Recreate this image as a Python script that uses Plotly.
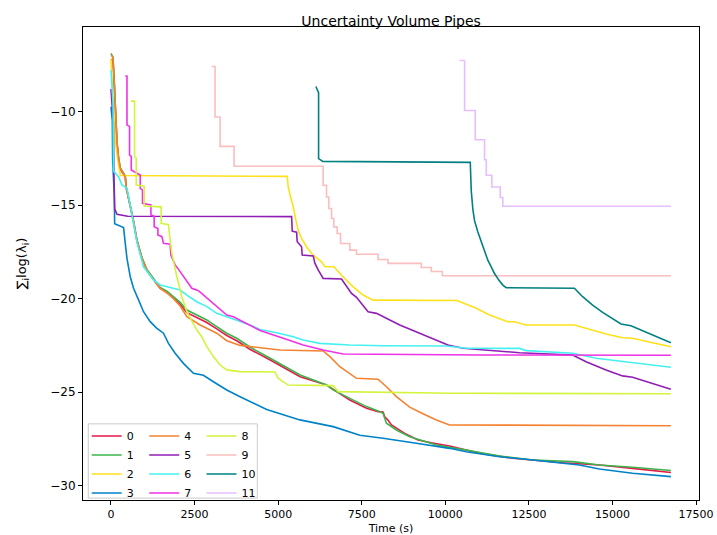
import plotly.graph_objects as go

# ---------------- data ----------------
T0 = [0, 60, 99, 128, 179, 227, 278, 427, 457, 525, 597, 675, 776, 925, 1075, 1272, 1472, 1672, 1869, 2069,
      2269, 2567, 2866, 3164, 3463, 3761, 4166, 4763, 5657, 6448, 7143, 7642, 7988, 8137, 8189, 8289, 8389,
      8785, 9183, 9580, 10128, 11024, 12018, 13511, 14606, 15600, 16746]
V0 = [-7.2, -7.3, -8.6, -10.1, -11.7, -12.55, -13.1, -13.5, -14.1, -14.65, -15.2, -15.9, -16.9, -17.85, -18.5,
      -19.0, -19.45, -19.65, -19.95, -20.3, -20.75, -21.0, -21.28, -21.62, -21.97, -22.25, -22.72, -23.28,
      -24.17, -24.62, -25.42, -25.86, -26.04, -26.06, -26.31, -26.5, -26.75, -27.2, -27.55, -27.7, -27.87,
      -28.26, -28.53, -28.77, -28.89, -29.07, -29.29]

T1 = [0, 60, 99, 128, 179, 227, 278, 427, 457, 525, 597, 675, 776, 925, 1075, 1272, 1472, 1672, 1869, 2069,
      2269, 2567, 2866, 3164, 3463, 3761, 4166, 4763, 5657, 6448, 6645, 7143, 7642, 7988, 8137, 8239, 8537,
      8934, 9331, 9731, 10128, 10627, 11621, 12615, 13809, 14606, 15600, 16746]
V1 = [-6.9, -7.1, -8.4, -9.9, -11.6, -12.45, -13.0, -13.45, -14.05, -14.6, -15.15, -15.85, -16.85, -17.8,
      -18.45, -18.95, -19.4, -19.6, -19.88, -20.2, -20.61, -20.88, -21.14, -21.5, -21.85, -22.12, -22.6,
      -23.19, -24.08, -24.62, -24.88, -25.33, -25.77, -26.0, -26.13, -26.66, -27.02, -27.38, -27.6, -27.82,
      -27.95, -28.09, -28.41, -28.62, -28.71, -28.89, -29.01, -29.18]

T2 = [0, 60, 130, 220, 280, 5272, 5301, 5373, 5451, 5531, 5600, 5701, 5851, 6048, 6298, 6397, 6666, 6895,
      7242, 7540, 7839, 10346, 10925, 11322, 11868, 12068, 12418, 13860, 14209, 14806, 15301, 15600, 16197,
      16746]
V2 = [-7.2, -9.6, -11.6, -12.8, -13.42, -13.47, -14.04, -14.57, -15.1, -15.81, -16.35, -16.79, -17.24,
      -17.68, -18.04, -18.3, -18.3, -18.75, -19.37, -19.81, -20.08, -20.1, -20.52, -20.88, -21.24, -21.24,
      -21.41, -21.41, -21.59, -21.89, -22.09, -22.12, -22.36, -22.57]

T3 = [0, 40, 50, 99, 110, 227, 376, 427, 478, 576, 675, 824, 973, 1173, 1373, 1570, 1719, 1919, 2167, 2466,
      2764, 3063, 3463, 3860, 4158, 4657, 5651, 6645, 7442, 8137, 9134, 10128, 10627, 11621, 12615, 14009,
      14606, 15600, 16746]
V3 = [-9.75, -10.5, -12.6, -14.5, -16.0, -16.07, -16.2, -17.05, -17.85, -18.83, -19.45, -20.07, -20.7,
      -21.23, -21.59, -21.85, -22.39, -22.92, -23.46, -23.99, -24.1, -24.44, -24.88, -25.24, -25.5, -25.93,
      -26.48, -26.84, -27.3, -27.46, -27.73, -28.0, -28.18, -28.45, -28.62, -28.89, -29.1, -29.33, -29.51]

T4 = [0, 60, 99, 128, 179, 227, 278, 427, 457, 525, 597, 675, 776, 925, 1075, 1272, 1472, 1672, 1869, 2069,
      2269, 2666, 3164, 3463, 3860, 4358, 5054, 6346, 6546, 6845, 7343, 7988, 8239, 8537, 8934, 9331, 9731,
      10128, 16746]
V4 = [-7.0, -7.1, -8.5, -10.0, -11.62, -12.5, -13.04, -13.49, -14.1, -14.64, -15.18, -15.89, -16.9, -17.85,
      -18.47, -19.0, -19.45, -19.7, -20.0, -20.4, -20.97, -21.41, -21.85, -22.25, -22.5, -22.62, -22.75,
      -22.8, -23.1, -23.64, -24.26, -24.31, -24.71, -25.24, -25.8, -26.15, -26.48, -26.75, -26.79]

T5 = [0, 25, 70, 90, 110, 180, 500, 5403, 5421, 5552, 5570, 5701, 5719, 6048, 6098, 6197, 6346, 6895, 7045,
      7194, 7343, 7540, 7689, 7940, 8239, 8636, 9033, 9630, 10077, 10525, 11322, 12218, 13809, 14209, 14806,
      15301, 15600, 16197, 16746]
V5 = [-8.8, -9.6, -10.6, -13.5, -15.2, -15.5, -15.6, -15.62, -16.4, -16.45, -16.96, -17.23, -17.67, -17.72,
      -18.11, -18.47, -18.92, -18.95, -19.36, -19.72, -19.93, -20.34, -20.7, -20.79, -21.05, -21.41, -21.7,
      -22.15, -22.48, -22.65, -22.78, -22.89, -23.01, -23.37, -23.81, -24.13, -24.2, -24.52, -24.84]

T6 = [0, 60, 78, 227, 328, 478, 555, 627, 700, 776, 973, 1272, 1472, 1770, 2069, 2269, 2567, 2866, 3164,
      3463, 3860, 4158, 4457, 4955, 5451, 5749, 6248, 7143, 8137, 10030, 10627, 12218, 12418, 13809, 14507,
      15301, 16000, 16746]
V6 = [-7.8, -9.5, -13.2, -13.49, -13.93, -14.1, -14.82, -15.53, -16.3, -17.0, -18.3, -19.0, -19.27, -19.4,
      -19.54, -19.81, -20.17, -20.43, -20.79, -20.97, -21.23, -21.41, -21.65, -21.82, -22.04, -22.21, -22.39,
      -22.48, -22.52, -22.53, -22.65, -22.66, -22.78, -22.92, -23.19, -23.37, -23.49, -23.67]

T7 = [427, 478, 478, 555, 555, 606, 606, 875, 875, 943, 943, 1194, 1194, 1292, 1292, 1403, 1403, 1522, 1570,
      1770, 1791, 1919, 2069, 2269, 2418, 2615, 2866, 3164, 3463, 3660, 4060, 4457, 5152, 5749, 6346, 6943,
      11024, 16746]
V7 = [-8.11, -8.11, -10.73, -10.8, -12.33, -12.4, -13.13, -13.4, -14.11, -14.2, -14.91, -15.0, -15.53, -15.6,
      -16.16, -16.25, -16.6, -16.69, -17.05, -17.1, -17.67, -18.2, -18.56, -19.1, -19.45, -19.58, -19.98,
      -20.43, -20.88, -20.97, -21.32, -21.7, -22.12, -22.48, -22.75, -22.96, -23.01, -23.03]

T8 = [597, 705, 705, 755, 755, 994, 994, 1501, 1501, 1719, 1770, 1821, 1970, 2119, 2269, 2418, 2567, 2716,
      2866, 3063, 3263, 3463, 3860, 4904, 5003, 5301, 6645, 6794, 10128, 16746]
V8 = [-9.45, -9.45, -12.42, -12.5, -13.93, -14.0, -15.05, -15.1, -15.98, -16.05, -16.87, -17.58, -18.83,
      -19.9, -20.7, -21.23, -21.68, -22.04, -22.57, -23.1, -23.55, -23.81, -23.9, -23.92, -24.26, -24.62,
      -24.65, -24.97, -25.06, -25.08]

T9 = [3015, 3113, 3263, 3681, 6346, 6447, 6516, 6597, 6665, 6764, 6866, 7143, 7343, 7988, 8286, 9283, 9582,
      9910, 16746]
V9 = [-7.6, -10.3, -11.87, -12.93, -13.95, -14.57, -15.19, -15.72, -16.17, -16.52, -17.06, -17.41, -17.63,
      -17.91, -18.12, -18.34, -18.55, -18.78, -18.78]

T10 = [6128, 6197, 6209, 6209, 6337, 10746, 10776, 10824, 10875, 10973, 11054, 11122, 11182, 11271, 11373,
       11471, 11600, 11719, 11821, 13860, 14107, 14406, 14704, 15003, 15253, 15552, 15800, 16000, 16397, 16746]
V10 = [-8.67, -8.97, -9.0, -12.52, -12.67, -12.72, -14.25, -15.24, -15.85, -16.44, -16.88, -17.24, -17.59,
       -17.95, -18.3, -18.66, -19.01, -19.28, -19.42, -19.45, -19.9, -20.35, -20.74, -21.06, -21.36, -21.45,
       -21.64, -21.77, -22.07, -22.36]

T11 = [10427, 10576, 10895, 11173, 11224, 11391, 11642, 11719, 16746]
V11 = [-7.28, -9.95, -11.51, -12.58, -13.41, -14.04, -14.6, -15.07, -15.07]

NAMES = ["0", "1", "2", "3", "4", "5", "6", "7", "8", "9", "10", "11"]
TIMES = [T0, T1, T2, T3, T4, T5, T6, T7, T8, T9, T10, T11]
VALUES = [V0, V1, V2, V3, V4, V5, V6, V7, V8, V9, V10, V11]
SHAPES = ["linear"] * 9 + ["hv", "linear", "hv"]
COLORS = ["#e6194b", "#3cb44b", "#ffe119", "#0082c8", "#f58231", "#911eb4",
          "#46f0f0", "#f032e6", "#d2f53c", "#fabebe", "#008080", "#e6beff"]

X_TICKS = [0, 2500, 5000, 7500, 10000, 12500, 15000, 17500]
X_TICKTEXT = ["0", "2500", "5000", "7500", "10000", "12500", "15000", "17500"]
Y_TICKS = [-10, -15, -20, -25, -30]
Y_TICKTEXT = ["\u221210", "\u221215", "\u221220", "\u221225", "\u221230"]

FONT = "DejaVu Sans"

fig = go.Figure()
legends = ["legend", "legend2", "legend3"]
for i, (name, t, v) in enumerate(zip(NAMES, TIMES, VALUES)):
    fig.add_trace(go.Scatter(
        x=t, y=v, mode="lines", name=name,
        line=dict(color=COLORS[i], width=1.6, shape=SHAPES[i]),
        legend=legends[i // 4],
    ))

leg_common = dict(yanchor="top", xanchor="left", bgcolor="rgba(0,0,0,0)", borderwidth=0,
                  font=dict(family=FONT, size=11, color="black"), tracegroupgap=0,
                  itemwidth=30)

fig.update_layout(
    width=717, height=535,
    margin=dict(l=83, r=18, t=27, b=35, autoexpand=False),
    paper_bgcolor="white", plot_bgcolor="white",
    font=dict(family=FONT, size=11, color="black"),
    title=dict(text="Uncertainty Volume Pipes", x=0.5455, xanchor="center", y=0.961, yanchor="middle",
               font=dict(family=FONT, size=14, color="black")),
    xaxis=dict(range=[-837, 17587], tickvals=X_TICKS, ticktext=X_TICKTEXT, ticks="outside", ticklen=4,
               tickwidth=1, tickcolor="black", showline=True, linecolor="black", linewidth=1, mirror=True,
               showgrid=False, zeroline=False, tickfont=dict(family=FONT, size=11), automargin=False,
               title=dict(text="Time (s)", font=dict(family=FONT, size=11), standoff=8)),
    yaxis=dict(range=[-30.76, -5.49], tickvals=Y_TICKS, ticktext=Y_TICKTEXT, ticks="outside", ticklen=4,
               tickwidth=1, tickcolor="black", showline=True, linecolor="black", linewidth=1, mirror=True,
               showgrid=False, zeroline=False, tickfont=dict(family=FONT, size=12), automargin=False,
               title=dict(text="∑<sub>i</sub>log(λ<sub>i</sub>)", font=dict(family=FONT, size=13),
                          standoff=20)),
    legend=dict(x=0.006, y=0.166, **leg_common),
    legend2=dict(x=0.0994, y=0.166, **leg_common),
    legend3=dict(x=0.1924, y=0.166, **leg_common),
    showlegend=True,
    shapes=[dict(type="rect", xref="paper", yref="paper", x0=0.0086, x1=0.283, y0=0.004, y1=0.161,
                 line=dict(color="#cccccc", width=1), fillcolor="rgba(255,255,255,0.8)", layer="above")],
)

fig.write_html("out.html")
